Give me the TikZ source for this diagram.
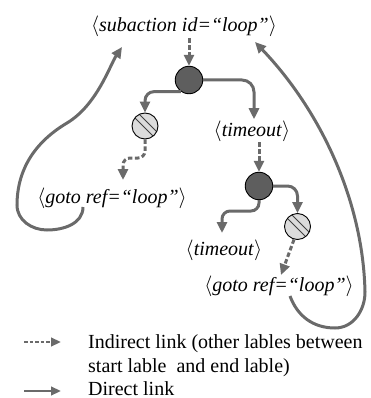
\documentclass[tikz,border=0pt]{standalone}
\usepackage{fontspec}
\setmainfont{Liberation Serif}
\usetikzlibrary{arrows.meta,calc}
\definecolor{linkgray}{HTML}{6A6A6A}
\definecolor{darkfill}{HTML}{5E5E5E}
\definecolor{lightfill}{HTML}{DCDCDC}
\begin{document}
\begin{tikzpicture}[x=1pt,y=1pt,
  lbl/.style={font=\fontsize{20}{24}\selectfont, inner sep=1pt, anchor=base},
  legtext/.style={font=\fontsize{20}{24}\selectfont, inner sep=0pt, anchor=base west},
  darknode/.style={circle,draw=black,line width=0.9pt,fill=darkfill,minimum size=27.5pt,inner sep=0pt},
  lightnode/.style={circle,draw=black,line width=0.9pt,fill=lightfill,minimum size=26pt,inner sep=0pt,
    path picture={
      \draw[black!75,line width=1pt] ([shift={(-15pt,13pt)}]path picture bounding box.center) -- ++(28pt,-28pt);
      \draw[black!75,line width=1pt] ([shift={(-11pt,17pt)}]path picture bounding box.center) -- ++(28pt,-28pt);
    }},
  link/.style={draw=linkgray,line width=3pt,-{Triangle[length=11pt,width=10pt]},color=linkgray},
  dlink/.style={link,dash pattern=on 4.5pt off 2.5pt},
  leglink/.style={draw=linkgray,line width=2.6pt,-{Triangle[length=10pt,width=8.5pt]},color=linkgray},
  legdlink/.style={leglink,dash pattern=on 3.5pt off 2pt},
]
\useasboundingbox (0,0) rectangle (371,-398);

% nodes
\node[lbl] (sub) at (184,-32) {$\langle$\textit{subaction id=``loop''}$\rangle$};
\node[darknode] (c1) at (189,-80) {};
\node[lightnode] (l1) at (145,-126) {};
\node[lbl] (to1) at (252,-136) {$\langle$\textit{timeout}$\rangle$};
\node[lbl] (g1) at (112,-203) {$\langle$\textit{goto ref=``loop''}$\rangle$};
\node[darknode] (c2) at (259,-186) {};
\node[lightnode] (l2) at (297.5,-226.5) {};
\node[lbl] (to2) at (224,-255) {$\langle$\textit{timeout}$\rangle$};
\node[lbl] (g2) at (279,-291) {$\langle$\textit{goto ref=``loop''}$\rangle$};

% free ends
\coordinate (g1in) at (123,-180);
\coordinate (to2in) at (222,-233);
\coordinate (g2in) at (281,-275);
\coordinate (g1out) at (83,-207);
\coordinate (sub1in) at (122,-47);
\coordinate (g2out) at (290,-296);
\coordinate (sub2in) at (255,-42);

% connectors
\draw[dlink] (c1.north |- sub.south) -- (c1.north);
\draw[link,rounded corners=12pt] (c1.east) -| ($(to1.north)+(2,0)$);
\draw[link,rounded corners=9pt] (c1.235) -| (l1.north);
\draw[dlink,rounded corners=7pt] (l1.south) |- ($(g1in)+(0,22)$) -- (g1in);
\draw[dlink] (c2.north |- to1.south) -- (c2.north);
\draw[link,rounded corners=10pt] (c2.east) -| (l2.north);
\draw[link,rounded corners=8pt] (c2.south) |- ($(to2in)+(0,22)$) -- (to2in);
\draw[dlink] (l2.255) -- (g2in);

% loops back to subaction
\draw[link] (g1out) to[out=-90,in=0] (47,-230) to[out=180,in=-90] (17,-205)
  .. controls (17,-175) and (30,-145) .. (67,-123)
  .. controls (97,-105) and (110,-65) .. (sub1in);
\draw[link] (g2out) to[out=-70,in=180] (335,-328) to[out=0,in=-90] (365,-292)
  .. controls (363,-200) and (320,-110) .. (sub2in);

% legend
\coordinate (la1) at (24,-342);
\coordinate (la2) at (61,-342);
\coordinate (lb1) at (24,-391);
\coordinate (lb2) at (61,-391);
\draw[legdlink] (la1) -- (la2);
\draw[leglink] (lb1) -- (lb2);
\node[legtext] (t1) at (88,-348) {Indirect link (other lables between};
\node[legtext] (t2) at (88,-372) {start lable\ \ and end lable)};
\node[legtext] (t3) at (88,-395) {Direct link};
\end{tikzpicture}
\end{document}
